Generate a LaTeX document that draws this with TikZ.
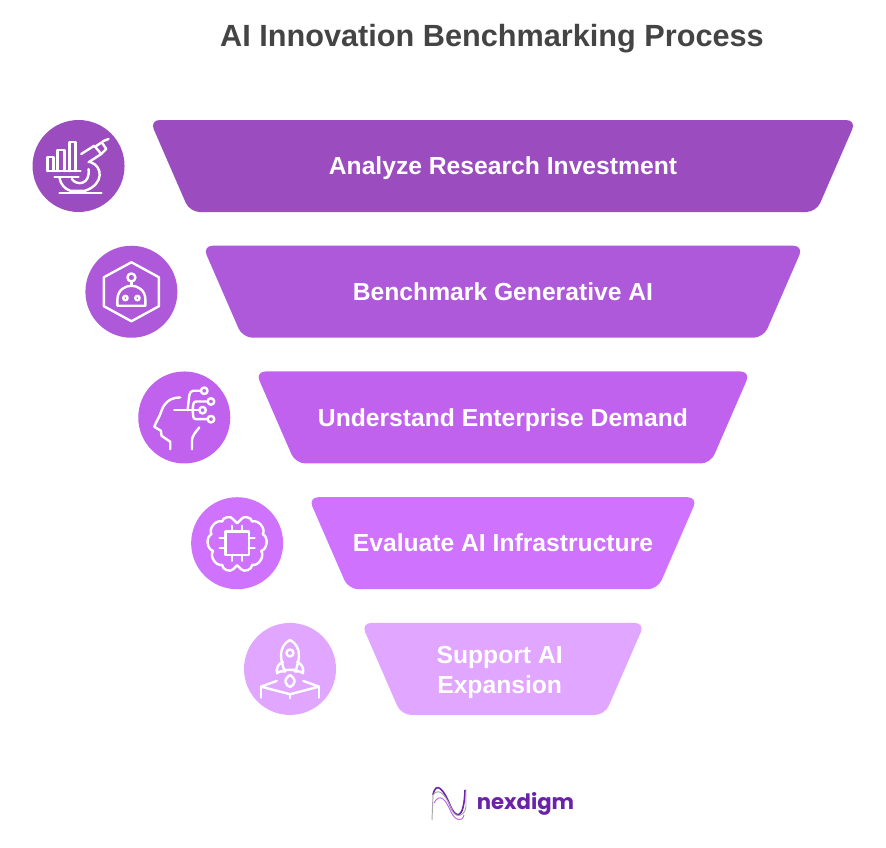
\documentclass[tikz,border=0pt]{standalone}
\usepackage{fontspec}
\setmainfont{Liberation Sans}
\newfontfamily\logofont{Poppins}
\usetikzlibrary{backgrounds,positioning}
\definecolor{titlegray}{HTML}{444444}
\definecolor{stepa}{HTML}{9B4DBF}
\definecolor{stepb}{HTML}{AE58DA}
\definecolor{stepc}{HTML}{C062EE}
\definecolor{stepd}{HTML}{CF72FE}
\definecolor{stepe}{HTML}{E1A6FF}
\definecolor{logopurple}{HTML}{6A22A8}
\newcommand{\bandshape}[2]{\fill [#2, rounded corners=7.5pt] (#1.north west) -- (#1.north east) -- ([xshift=-30pt]#1.south east) -- ([xshift=30pt]#1.south west) -- cycle;}
\begin{document}
\begin{tikzpicture}[x=0.75pt,y=-0.75pt]
	\tikzstyle{band} = [rectangle, minimum height=69pt, inner sep=0pt, outer sep=0pt, text=white, align=center, text height=16pt, text depth=3.2pt, font=\fontsize{18.5}{23.2}\selectfont\bfseries]
	\tikzstyle{badge} = [circle, minimum size=69pt, inner sep=0pt, outer sep=0pt]
	\tikzstyle{glyph} = [draw=white, line width=1.8pt, line cap=round, line join=round]
	\useasboundingbox (0,0) rectangle (886,847);
	
	\node [text=titlegray, font=\fontsize{23}{28}\selectfont\bfseries] (title) at (492,38.5) {AI Innovation Benchmarking Process};
	
	\node [band, minimum width=529.9pt] (band1) at (503,166) {Analyze Research Investment};
	\node [band, minimum width=450.6pt, below = 25.3pt of band1] (band2) {Benchmark Generative AI};
	\node [band, minimum width=371.3pt, below = 25.3pt of band2] (band3) {Understand Enterprise Demand};
	\node [band, minimum width=292pt, below = 25.3pt of band3] (band4) {Evaluate AI Infrastructure};
	\node [band, minimum width=212.7pt, text height=42pt, text depth=4.5pt, below = 25.3pt of band4] (band5) {Support AI\hspace*{5pt}\\Expansion\hspace*{5pt}};
	
	\begin{scope}[on background layer]
		\bandshape{band1}{stepa}
		\bandshape{band2}{stepb}
		\bandshape{band3}{stepc}
		\bandshape{band4}{stepd}
		\bandshape{band5}{stepe}
	\end{scope}
	
	\node [badge, fill=stepa, left = 18.9pt of band1] (icon1) {};
	\node [badge, fill=stepb, left = 18.9pt of band2] (icon2) {};
	\node [badge, fill=stepc, left = 18.9pt of band3] (icon3) {};
	\node [badge, fill=stepd, left = 18.9pt of band4] (icon4) {};
	\node [badge, fill=stepe, left = 18.9pt of band5] (icon5) {};
	
	% chart and microscope
	\begin{scope}[shift={(icon1.center)}, glyph]
		\draw (-31,5) -- (2,5);
		\draw (-31,5) -- (-31,-9) -- (-25,-9) -- (-25,5);
		\draw (-21,5) -- (-21,-16) -- (-14,-16) -- (-14,5);
		\draw (-9,5) -- (-9,-24) -- (-3,-24) -- (-3,5);
		\draw (-19,27) -- (23,27);
		\draw (-24,11) -- (0,11);
		\draw (2.7,-12) -- (15.7,-20.3) -- (22.7,-12) -- (10,-3.7);
		\draw (17.7,-20) -- (23.3,-23.7) -- (27.7,-17) -- (22.7,-12);
		\draw (24.3,-24.7) -- (30,-27);
		\draw (12.3,-3.7) .. controls (24,0) and (26,18) .. (6.7,24.7) -- (-8.3,24.7) .. controls (-14,23) and (-18,18) .. (-19,12);
		\draw (-6.7,13) .. controls (-2,20) and (12,19) .. (10,3);
	\end{scope}
	
	% robot in a hexagon
	\begin{scope}[shift={(icon2.center)}, glyph]
		\draw (0,-29.5) -- (27.5,-14.5) -- (27.5,14.5) -- (0,29.5) -- (-27.5,14.5) -- (-27.5,-14.5) -- cycle;
		\draw (0,-14.3) circle (4);
		\draw (0,-10.3) -- (0,-6);
		\draw (-14,14) -- (14,14) -- (14,8) .. controls (14,-2) and (6,-6) .. (0,-6) .. controls (-6,-6) and (-14,-2) .. (-14,8) -- cycle;
		\draw (-6,6.3) circle (2.2);
		\draw (6,6.3) circle (2.2);
	\end{scope}
	
	% head with circuit
	\begin{scope}[shift={(icon3.center)}, glyph]
		\draw (-4,-20) .. controls (-14,-20) and (-20,-15) .. (-23,-6) .. controls (-25,0) and (-28,4) .. (-30,9.3) -- (-23.3,13.3) -- (-22.7,18.3) -- (-14,24.3) -- (-14,31.7);
		\draw (7.7,31.7) -- (7.7,22.3) .. controls (8,18) and (12,14) .. (15,10);
		\draw (-10,-7.3) -- (15,-7.3);
		\draw (18.3,-7.3) circle (3.3);
		\draw (3.3,-7.3) -- (5,-21.7) .. controls (5.5,-25) and (7,-26.7) .. (9,-26.7) -- (16.7,-26.7);
		\draw (20,-26.7) circle (3.3);
		\draw (8.3,-7.3) -- (9,-13) .. controls (9.3,-15) and (10,-16) .. (12,-16) -- (23.4,-16);
		\draw (26.7,-16) circle (3.3);
		\draw (8.3,-7.3) -- (9,-1) .. controls (9.3,1) and (10,1.7) .. (12,1.7) -- (23.4,1.7);
		\draw (26.7,1.7) circle (3.3);
	\end{scope}
	
	% brain with chip
	\begin{scope}[shift={(icon4.center)}, glyph]
		\draw (-11.7,-11.7) rectangle (11.7,11.7);
		\foreach \p in {-5,5} {
			\draw (\p,-11.7) -- (\p,-17.5);
			\draw (\p,11.7) -- (\p,17.5);
			\draw (-11.7,\p) -- (-17.5,\p);
			\draw (11.7,\p) -- (17.5,\p);
		}
		\draw (-4,26) to[bend left=70] (-15,21.7) to[bend left=70] (-24,7.7) to[bend left=70] (-25.7,-9) to[bend left=70] (-15,-21.7) to[bend left=75] (-4,-24);
		\draw (4,-24) to[bend left=75] (15,-21.7) to[bend left=70] (25.7,-9) to[bend left=70] (24,7.7) to[bend left=70] (15,21.7) to[bend left=70] (4,26);
		\draw (-4,-24) -- (0,-20) -- (4,-24);
		\draw (-4,26) -- (0,22) -- (4,26);
	\end{scope}
	
	% rocket on a pad
	\begin{scope}[shift={(icon5.center)}, glyph]
		\draw (0,-29) .. controls (-6,-26) and (-9,-20) .. (-9,-14) .. controls (-9,-8) and (-7,-3) .. (-6,1) -- (6,1) .. controls (7,-3) and (9,-8) .. (9,-14) .. controls (9,-20) and (6,-26) .. (0,-29) -- cycle;
		\draw (0,-16) circle (3.5);
		\draw (-7,-7) .. controls (-12,-5) and (-14,-1) .. (-13,4.3) .. controls (-10,2) and (-7,2) .. (-4.5,2.5);
		\draw (7,-7) .. controls (12,-5) and (14,-1) .. (13,4.3) .. controls (10,2) and (7,2) .. (4.5,2.5);
		\draw (0,6) .. controls (-3,8) and (-5,11) .. (-4.5,13) .. controls (-4,16) and (-2,17) .. (0,18) .. controls (2,17) and (4,16) .. (4.5,13) .. controls (5,11) and (3,8) .. (0,6) -- cycle;
		\draw (-13.3,12) -- (-29,17.7) -- (0,25.3) -- (29,17.7) -- (13.3,12);
		\draw (-29,17.7) -- (-29,28.7);
		\draw (0,25.3) -- (0,29.3);
		\draw (29,17.7) -- (29,28.7);
	\end{scope}
	
	% logo
	\draw [logopurple, line width=1.2pt] (433,795) .. controls (436,780) and (444,790) .. (450,805) .. controls (455,818) and (464,822) .. (465,790);
	\draw [gray!70, line width=0.7pt] (432,820) -- (433,795) .. controls (440,785) and (448,800) .. (452,810) .. controls (456,820) and (466,815) .. (466,806) -- (466,789);
	\draw [stepc, line width=0.7pt] (434,803) .. controls (440,792) and (446,800) .. (451,812) .. controls (455,820) and (462,823) .. (464,815);
	\node [text=logopurple, font=\logofont\fontsize{15.9}{20}\selectfont\bfseries] (logo) at (525.5,804) {nexdigm};
\end{tikzpicture}
\end{document}
